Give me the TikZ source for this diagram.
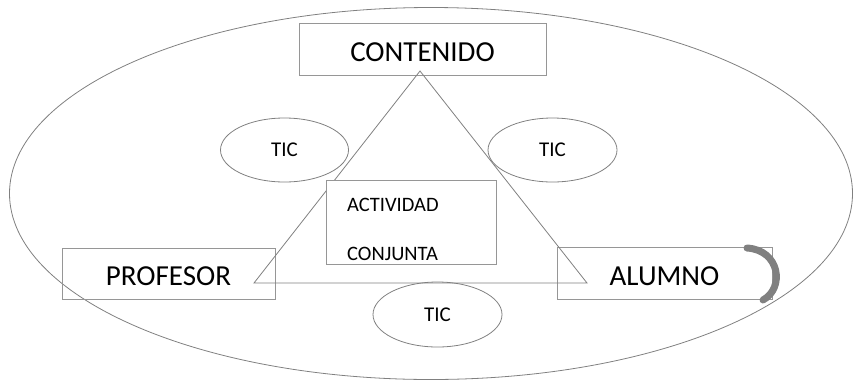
\documentclass[tikz,border=0pt]{standalone}
\usepackage{fontspec}
\setmainfont{Carlito}
\usetikzlibrary{shapes.geometric}
\definecolor{linegray}{RGB}{128,128,128}
\definecolor{boxgray}{RGB}{150,150,150}
\definecolor{arcgray}{RGB}{128,128,128}
\tikzset{
  bigbox/.style={draw=boxgray, line width=0.9pt, rectangle, inner sep=0pt,
    font=\fontsize{29}{29}\selectfont, text height=24pt, text depth=0pt},
  ticell/.style={draw=linegray, line width=0.8pt, ellipse, inner sep=0pt,
    minimum width=128pt, minimum height=64pt,
    font=\fontsize{21}{21}\selectfont, text height=13pt, text depth=0pt},
  actbox/.style={draw=boxgray, line width=0.9pt, rectangle, fill=white, inner sep=0pt},
  smalltext/.style={font=\fontsize{20.5}{20.5}\selectfont, inner sep=0pt, anchor=base west},
  tri/.style={draw=linegray, line width=0.8pt},
  loop/.style={draw=arcgray, line width=7pt, line cap=round}
}
\begin{document}
\begin{tikzpicture}[x=1pt,y=-1pt]
\useasboundingbox (0,0) rectangle (853,381);
% outer ellipse
\draw[draw=linegray, line width=0.8pt] (431,193.5) ellipse [x radius=421.5, y radius=186];
% boxes
\node[bigbox, minimum width=247pt, minimum height=52pt] (contenido) at (422.5,49) {CONTENIDO};
\node[bigbox, minimum width=213pt, minimum height=51pt] (profesor) at (168.5,273.5) {PROFESOR};
\node[bigbox, minimum width=215pt, minimum height=52pt] (alumno) at (664.5,273) {ALUMNO};
% triangle
\coordinate (apex) at (420,71);
\coordinate (tl) at (254,283);
\coordinate (tr) at (587,283);
\draw[tri] (apex) -- (tl) -- (tr) -- cycle;
% activity box
\node[actbox, minimum width=170pt, minimum height=84pt] (actividad) at (411,222) {};
\node[smalltext] (act1) at (347,211) {ACTIVIDAD};
\node[smalltext] (act2) at (347,260) {CONJUNTA};
% TIC ellipses
\node[ticell] (tic1) at (284.5,150) {TIC};
\node[ticell, minimum width=129pt] (tic2) at (552.5,150) {TIC};
\node[ticell, minimum width=129pt, minimum height=65pt] (tic3) at (437.5,314.5) {TIC};
% loop arrow on ALUMNO
\coordinate (loopS) at (747,248);
\coordinate (loopE) at (763,300);
\draw[loop] (loopS) .. controls (780,250) and (785,288) .. (loopE);
\end{tikzpicture}
\end{document}
